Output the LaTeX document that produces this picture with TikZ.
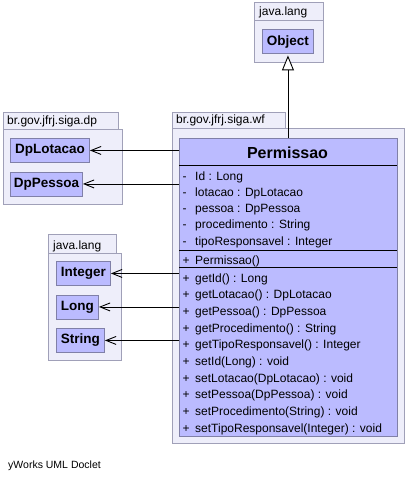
\documentclass[tikz,border=0pt]{standalone}
\usepackage{fontspec}
\setmainfont{Liberation Sans}
\usetikzlibrary{arrows.meta}
\definecolor{pkgfill}{RGB}{238,238,250}
\definecolor{pkgline}{RGB}{160,160,184}
\definecolor{clsfill}{RGB}{187,187,255}
\definecolor{clsline}{RGB}{128,128,168}
\tikzset{
  pkg/.style={draw=pkgline, fill=pkgfill, line width=0.9pt, inner sep=0pt, anchor=north west},
  pkglabel/.style={anchor=base west, inner sep=0pt, font=\fontsize{12}{14}\selectfont},
  cls/.style={draw=clsline, fill=clsfill, line width=0.9pt, inner sep=0pt, anchor=north west, font=\fontsize{13.5}{15}\selectfont\bfseries},
  member/.style={anchor=base west, inner sep=0pt, font=\fontsize{12}{14}\selectfont},
  dep/.style={line width=0.9pt, -{Straight Barb[length=10pt,width=8pt,line width=0.9pt]}},
  gen/.style={line width=0.9pt, -{Triangle[open,length=15pt,width=12pt,fill=white,line width=0.9pt]}},
  sep/.style={line width=0.9pt}
}
\begin{document}
\begin{tikzpicture}[x=1pt,y=-1pt]
\useasboundingbox (0,0) rectangle (407,481);

% top java.lang package
\node[pkg, minimum width=69pt, minimum height=18pt] (jltab) at (254,2) {};
\node[pkg, minimum width=69pt, minimum height=42pt] (jlbody) at (254,20) {};
\node[pkglabel] (jllab) at (259,16) {java.lang};
\node[cls, minimum width=51pt, minimum height=24pt] (Object) at (262,29.5) {Object};

% wf package
\node[pkg, minimum width=113pt, minimum height=16pt] (wftab) at (172,112) {};
\node[pkg, minimum width=232pt, minimum height=315pt] (wfbody) at (172,128) {};
\node[pkglabel] (wflab) at (176,124) {br.gov.jfrj.siga.wf};

% dp package
\node[pkg, minimum width=115pt, minimum height=17pt] (dptab) at (3,112) {};
\node[pkg, minimum width=119pt, minimum height=75pt] (dpbody) at (3,129) {};
\node[pkglabel] (dplab) at (7,125) {br.gov.jfrj.siga.dp};
\node[cls, minimum width=79pt, minimum height=24pt] (DpLotacao) at (10,138) {DpLotacao};
\node[cls, minimum width=72pt, minimum height=24pt] (DpPessoa) at (10,171.5) {DpPessoa};

% lower java.lang package
\node[pkg, minimum width=68pt, minimum height=19pt] (jl2tab) at (48,234) {};
\node[pkg, minimum width=73pt, minimum height=107pt] (jl2body) at (48,253) {};
\node[pkglabel] (jl2lab) at (53,249) {java.lang};
\node[cls, minimum width=54pt, minimum height=24pt] (Integer) at (56,261) {Integer};
\node[cls, minimum width=42pt, minimum height=24pt] (Long) at (56,294.5) {Long};
\node[cls, minimum width=48pt, minimum height=24pt] (String) at (56,328) {String};

% Permissao class
\node[draw=clsline, fill=clsfill, line width=0.9pt, inner sep=0pt, anchor=north west,
      minimum width=217.5pt, minimum height=297.5pt] (Permissao) at (179.3,138.3) {};
\node[anchor=base, inner sep=0pt, font=\fontsize{16}{18}\selectfont\bfseries] (ptitle) at (287.5,158) {Permissao};
\draw[sep] (179.3,165.7) -- (396.8,165.7);
\draw[sep] (179.3,250.7) -- (396.8,250.7);
\draw[sep] (179.3,267.3) -- (396.8,267.3);

\foreach \t [count=\i from 0] in {Id : Long, lotacao : DpLotacao, pessoa : DpPessoa, procedimento : String, tipoResponsavel : Integer}{
  \node[member] (a\i s) at (182.3,180+16.25*\i) {-};
  \node[member] (a\i) at (195,180+16.25*\i) {\t};
}
\node[member] (c0s) at (182.3,264) {+};
\node[member] (c0) at (195,264) {Permissao()};
\foreach \t [count=\i from 0] in {getId() : Long, getLotacao() : DpLotacao, getPessoa() : DpPessoa, getProcedimento() : String, getTipoResponsavel() : Integer, setId(Long) : void, setLotacao(DpLotacao) : void, setPessoa(DpPessoa) : void, setProcedimento(String) : void, setTipoResponsavel(Integer) : void}{
  \node[member] (m\i s) at (182.3,282+16.7*\i) {+};
  \node[member] (m\i) at (195,282+16.7*\i) {\t};
}

% connectors
\draw[gen, shorten >=1pt] (Permissao.north -| Object.south) -- (Object.south);
\draw[dep] (Permissao.west |- DpLotacao.east) -- (DpLotacao.east);
\draw[dep] (Permissao.west |- DpPessoa.east) -- (DpPessoa.east);
\draw[dep] (Permissao.west |- Integer.east) -- (Integer.east);
\draw[dep] (Permissao.west |- Long.east) -- (Long.east);
\draw[dep] (Permissao.west |- String.east) -- (String.east);

\node[anchor=base west, inner sep=0pt, font=\fontsize{10.5}{12}\selectfont] (doclet) at (8,468) {yWorks UML Doclet};
\end{tikzpicture}
\end{document}
